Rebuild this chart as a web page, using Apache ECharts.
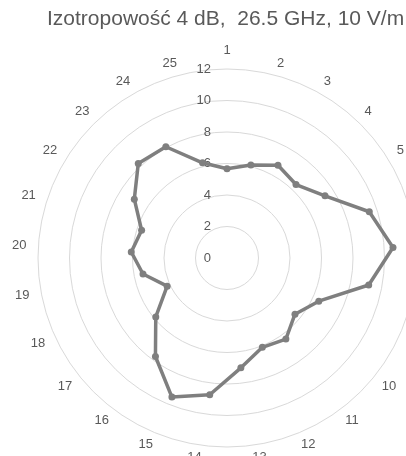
<!DOCTYPE html>
<html><head><meta charset="utf-8">
<script src="https://cdn.jsdelivr.net/npm/echarts@6/dist/echarts.min.js"></script>
<style>html,body{margin:0;padding:0;background:#fff}#c{width:406px;height:456px}</style>
</head><body><div id="c"></div>
<script>
const titleText = 'Izotropowość 4 dB,  26.5 GHz, 10 V/m';
const categories = ['1','2','3','4','5','6','7','8','9','10','11','12','13','14','15','16','17','18','19','20','21','22','23','24','25'];
const values = [5.67, 6.1, 6.72, 6.4, 7.37, 9.5, 10.56, 9.16, 6.44, 5.6, 6.36, 6.1, 7.03, 8.75, 9.5, 7.73, 5.87, 4.2, 5.43, 6.09, 5.7, 6.97, 8.23, 8.06, 6.24];
const tickLabels = [0, 2, 4, 6, 8, 10, 12];

// ECharts radar runs counter-clockwise: keep the first axis at the top, reverse the rest
const order = [0].concat(categories.map((_, i) => i).slice(1).reverse());
const axisMax = tickLabels[tickLabels.length - 1];
const chart = echarts.init(document.getElementById('c'));
chart.setOption({
  animation: false,
  backgroundColor: '#fff',
  title: {
    text: titleText,
    left: 42, top: 4,
    textStyle: { fontFamily: 'Liberation Sans', fontSize: 21, fontWeight: 'normal', color: '#595959' }
  },
  radar: {
    center: [227, 258],
    radius: 189,
    shape: 'circle',
    startAngle: 90,
    splitNumber: tickLabels.length - 1,
    nameGap: 12,
    axisName: { color: '#595959', fontSize: 13, fontFamily: 'Liberation Sans' },
    axisLine: { show: false },
    axisTick: { show: false },
    splitArea: { show: false },
    splitLine: { lineStyle: { color: '#d9d9d9', width: 1 } },
    axisLabel: { show: false, color: '#595959', fontSize: 13, fontFamily: 'Liberation Sans', margin: 16 },
    indicator: order.map((k, i) => {
      const ind = { name: categories[k], min: tickLabels[0], max: axisMax };
      if (i === 0) ind.axisLabel = { show: true };
      return ind;
    })
  },
  series: [{
    type: 'radar',
    symbol: 'circle',
    symbolSize: 7,
    lineStyle: { color: '#7f7f7f', width: 3.5 },
    itemStyle: { color: '#7f7f7f' },
    data: [{ value: order.map(k => values[k]) }]
  }]
});
</script></body></html>
